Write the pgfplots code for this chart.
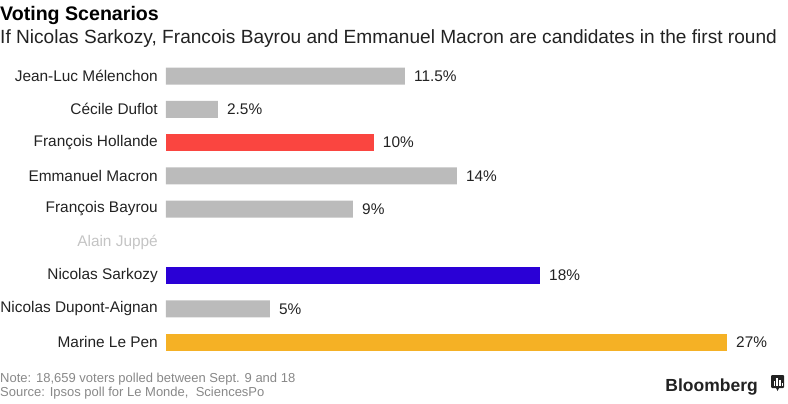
\documentclass[border=0pt]{standalone}
\usepackage{fontspec}
\setmainfont{Liberation Sans}
\usepackage{pgfplots}
\pgfplotsset{compat=1.18}
\definecolor{barg}{HTML}{BBBBBB}
\definecolor{barr}{HTML}{FA4540}
\definecolor{barb}{HTML}{2A00D6}
\definecolor{baro}{HTML}{F5B125}
\definecolor{txt}{HTML}{222222}
\definecolor{juppe}{HTML}{C4C4C4}
\definecolor{foot}{HTML}{888888}
\begin{document}
\begin{tikzpicture}[x=1pt,y=1pt]
\useasboundingbox (0,0) rectangle (788,-404);
\node[anchor=base west, inner sep=0, font=\fontsize{19.6}{22}\selectfont\bfseries, text=black] at (0,-21) {Voting Scenarios};
\node[anchor=base west, inner sep=0, font=\fontsize{19.1}{21}\selectfont, text=txt] at (0,-44) {If Nicolas Sarkozy, Francois Bayrou and Emmanuel Macron are candidates in the first round};
\begin{axis}[at={(166pt,-59.4pt)}, anchor=north west, scale only axis,
  width=561pt, height=299.25pt,
  xmin=0, xmax=27, ymin=-0.5, ymax=8.5, y dir=reverse,
  xbar, bar width=17pt, bar shift=0pt,
  axis line style={draw=none}, xtick=\empty, ytick={0,...,8},
  yticklabels={Jean-Luc Mélenchon, Cécile Duflot, François Hollande, Emmanuel Macron, François Bayrou, \textcolor{juppe}{Alain Juppé}, Nicolas Sarkozy, Nicolas Dupont-Aignan, Marine Le Pen},
  major tick length=0pt,
  yticklabel style={inner sep=0pt, xshift=-8pt, font=\fontsize{15.4}{18}\selectfont, text=txt},
  nodes near coords, point meta=explicit symbolic,
  every node near coord/.append style={anchor=west, inner sep=0pt, xshift=9pt, font=\fontsize{15.4}{18}\selectfont, text=txt},
  clip=false]
\addplot[draw=none, fill=barg] coordinates {(11.5,0) [11.5\%] (2.5,1) [2.5\%] (14,3) [14\%] (9,4) [9\%] (5,7) [5\%]};
\addplot[draw=none, fill=barr] coordinates {(10,2) [10\%]};
\addplot[draw=none, fill=barb] coordinates {(18,6) [18\%]};
\addplot[draw=none, fill=baro] coordinates {(27,8) [27\%]};
\end{axis}
\node[anchor=base west, inner sep=0, font=\fontsize{13}{15}\selectfont, text=foot] at (0,-382) {Note: 18,659 voters polled between Sept. 9 and 18};
\node[anchor=base west, inner sep=0, font=\fontsize{13}{15}\selectfont, text=foot] at (0,-396) {Source: Ipsos poll for Le Monde,\ \ SciencesPo};
\node[anchor=base east, inner sep=0, font=\fontsize{17.5}{20}\selectfont\bfseries, text=txt] at (758,-391) {Bloomberg};
\fill[txt, rounded corners=1pt] (771,-375) rectangle (784,-388);
\fill[txt] (776,-388) -- (779,-388) -- (777.5,-391) -- cycle;
\fill[white] (773.5,-386) rectangle (775,-381);
\fill[white] (776.3,-386) rectangle (777.8,-378);
\fill[white] (779.1,-386) rectangle (780.6,-380);
\fill[white] (781.9,-386) rectangle (782.9,-383);
\end{tikzpicture}
\end{document}
